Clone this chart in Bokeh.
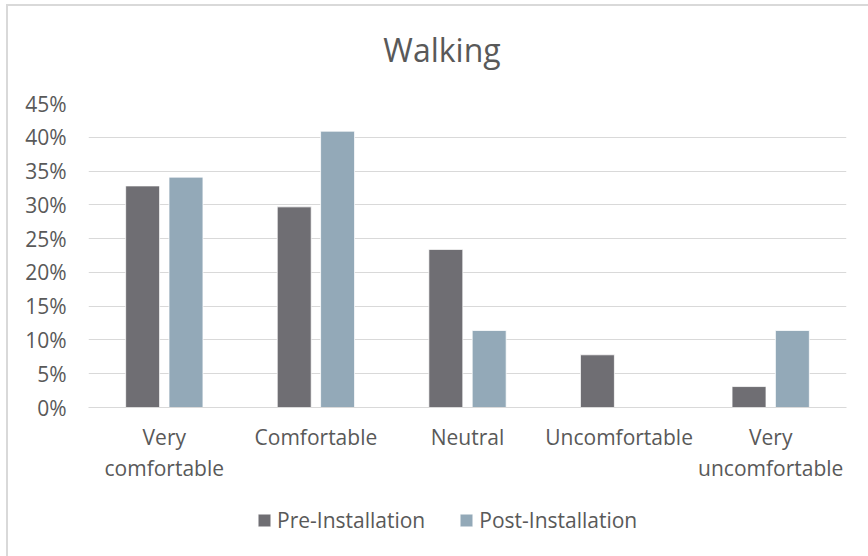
from bokeh.plotting import figure
from bokeh.layouts import column
from bokeh.models import (ColumnDataSource, FactorRange, Range1d, FixedTicker,
                          NumeralTickFormatter, Legend, LegendItem, Label)
from bokeh.transform import dodge
from bokeh.embed import file_html
from bokeh.resources import INLINE

# Survey shares of respondents, walking comfort before and after installation
chart_title = "Walking"
tick_labels = ["Very\ncomfortable", "Comfortable", "Neutral", "Uncomfortable", "Very\nuncomfortable"]
pre_installation = [0.328, 0.297, 0.234, 0.078, 0.031]
post_installation = [0.341, 0.409, 0.114, 0.0, 0.114]
y_ticks = [0.0, 0.05, 0.10, 0.15, 0.20, 0.25, 0.30, 0.35, 0.40, 0.45]
series_names = ["Pre-Installation", "Post-Installation"]

FONT = "Open Sans"
TEXT = "#595959"
GRID = "#d9d9d9"
PRE_COLOR = "#6f6e73"
POST_COLOR = "#93a9b8"

source = ColumnDataSource(dict(label=tick_labels, pre=pre_installation, post=post_installation))
x_range = FactorRange(factors=tick_labels)


def strip(height, **kw):
    """A plain figure without axes, lined up with the chart's plot area."""
    f = figure(frame_width=758, frame_height=height,
               min_border_left=80, min_border_right=22, min_border_top=0, min_border_bottom=0,
               x_axis_location=None, y_axis_location=None,
               output_backend="svg", toolbar_location=None, **kw)
    f.outline_line_color = None
    f.grid.grid_line_color = None
    f.border_fill_color = "white"
    return f


def add_bars(fig):
    r_pre = fig.vbar(x=dodge("label", -0.143, range=x_range), top="pre", width=0.224,
                     source=source, fill_color=PRE_COLOR, line_color="white", line_width=0.75)
    r_post = fig.vbar(x=dodge("label", 0.143, range=x_range), top="post", width=0.224,
                      source=source, fill_color=POST_COLOR, line_color="white", line_width=0.75)
    return r_pre, r_post


# title strip (pixel-sized ranges)
tf = strip(77, x_range=Range1d(0, 758), y_range=Range1d(0, 77))
tf.add_layout(Label(x=353.5, y=34, text=chart_title, text_align="center",
                    text_baseline="alphabetic", text_font=FONT, text_font_size="32px",
                    text_color=TEXT))

# main bar chart
p = figure(
    x_range=x_range,
    y_range=Range1d(0, 0.45),
    frame_width=758, frame_height=304,
    min_border_left=80, min_border_right=22,
    min_border_top=20, min_border_bottom=84,
    output_backend="svg", toolbar_location=None,
)
p.outline_line_color = None
p.background_fill_color = "white"
p.border_fill_color = "white"

add_bars(p)

p.yaxis.ticker = FixedTicker(ticks=y_ticks)
p.yaxis.formatter = NumeralTickFormatter(format="0%")
for ax in (p.xaxis[0], p.yaxis[0]):
    ax.major_tick_line_color = None
    ax.minor_tick_line_color = None
    ax.major_label_text_font = FONT
    ax.major_label_text_font_size = "21px"
    ax.major_label_text_color = TEXT
p.yaxis.axis_line_color = None
p.yaxis.major_label_standoff = 16
p.xaxis.axis_line_color = GRID
p.xaxis.axis_line_width = 1
p.xaxis.major_label_standoff = 9
p.xaxis.major_label_text_line_height = 1.12

p.xgrid.grid_line_color = None
p.ygrid.grid_line_color = GRID
p.ygrid.grid_line_width = 1
p.ygrid.ticker = FixedTicker(ticks=y_ticks)

# legend strip under the chart; it shares the x scale and keeps the bars out of view
lf = strip(65, x_range=x_range, y_range=Range1d(1, 2))
k_pre, k_post = add_bars(lf)
lg = Legend(items=[LegendItem(label=series_names[0], renderers=[k_pre]),
                   LegendItem(label=series_names[1], renderers=[k_post])],
            location=(168, 22), orientation="horizontal")
lg.background_fill_alpha = 0
lg.border_line_color = None
lg.padding = 0
lg.margin = 0
lg.spacing = 33
lg.glyph_width = 16
lg.glyph_height = 16
lg.label_standoff = 5
lg.label_text_font = FONT
lg.label_text_font_size = "21px"
lg.label_text_color = TEXT
lf.add_layout(lg, "center")

chart = column(tf, p, lf, spacing=0)
chart.styles = {
    "margin-left": "6px", "margin-top": "4px",
    "border-left": f"2px solid {GRID}", "border-top": f"2px solid {GRID}",
}

open("out.html", "w").write(file_html(chart, INLINE))
